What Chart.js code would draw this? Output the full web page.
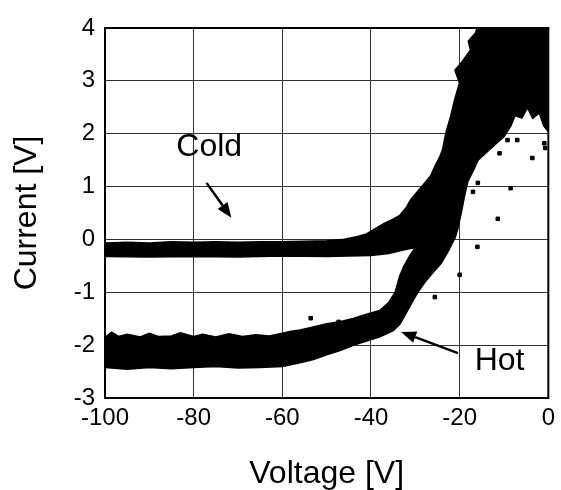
<!DOCTYPE html>
<html>
<head>
<meta charset="utf-8">
<script src="https://cdn.jsdelivr.net/npm/chart.js@4.4.1/dist/chart.umd.min.js"></script>
<style>
  html, body { margin: 0; background: #fff; }
  #wrap { width: 561px; height: 490px; }
</style>
</head>
<body>
<div id="wrap"><canvas id="ivChart"></canvas></div>
<script>
// outline of the cold trace (flat band + rising cloud up to the top right)
const coldEdgeX = [-100, -95, -90, -85, -80, -75, -70, -65, -60, -55, -50, -46, -43, -41, -39, -37, -35, -33.5, -32, -31, -29.5, -27.8, -26.5, -25.6, -24.5, -23.8, -23.1, -22.6, -22, -21.1, -20, -21, -19.5, -17.5, -18, -16.4, -16, 0,
  0, -1, -2, -3.5, -4.7, -6, -7.5, -8.5, -10, -12, -14, -15.9, -17, -18.2, -19, -19.7, -20.5, -21.5,
  -24, -27, -30, -33, -36, -40, -45, -50, -60, -70, -80, -90, -100]
const coldEdgeY = [-0.07, -0.06, -0.07, -0.05, -0.06, -0.05, -0.06, -0.05, -0.05, -0.04, -0.03, 0.0, 0.05, 0.1, 0.2, 0.3, 0.38, 0.45, 0.6, 0.75, 0.9, 1.07, 1.2, 1.37, 1.55, 1.7, 2.0, 2.15, 2.32, 2.64, 2.96, 3.2, 3.35, 3.58, 3.75, 3.9, 4.0, 4.0,
  2.05, 2.15, 2.4, 2.3, 2.5, 2.3, 2.35, 2.15, 1.95, 1.8, 1.65, 1.5, 1.3, 1.1, 0.8, 0.5, 0.2, 0.05,
  -0.02, -0.08, -0.15, -0.2, -0.26, -0.3, -0.31, -0.32, -0.31, -0.33, -0.32, -0.33, -0.32]

// outline of the hot trace
const hotEdgeX = [-100, -98.5, -97, -95, -92, -90, -88, -85, -83, -80, -78, -75, -72, -69, -66, -63, -60, -58, -56, -53, -50, -47, -44, -41, -38, -36, -34.5, -33.5, -32.5, -31, -29.5, -28, -26, -24, -22,
  -20.5, -21, -22.5, -24.2, -26, -27.8, -29.5, -31, -32.5, -33.5, -35, -38, -41, -44, -47, -50, -53, -56, -60, -65, -70, -75, -80, -85, -90, -95, -100]
const hotEdgeY = [-1.86, -1.76, -1.84, -1.8, -1.85, -1.78, -1.84, -1.83, -1.77, -1.84, -1.8, -1.85, -1.79, -1.84, -1.81, -1.83, -1.78, -1.74, -1.72, -1.66, -1.6, -1.56, -1.5, -1.42, -1.35, -1.2, -1.0, -0.7, -0.5, -0.28, -0.1, 0.05, 0.2, 0.35, 0.5,
  0.2, 0.05, -0.2, -0.45, -0.62, -0.8, -1.0, -1.22, -1.45, -1.6, -1.72, -1.84, -1.92, -2.0, -2.1, -2.18, -2.27, -2.33, -2.4, -2.42, -2.43, -2.4, -2.42, -2.44, -2.42, -2.45, -2.42]

// loose dots away from the bands
const strayX = [-11.4, -8.5, -3.6, -0.7, -16, -20, -25.6, -47.3, -53.6, -15.9, -17, -11, -9.2, -7, -0.2, -0.9]
const strayY = [0.39, 0.97, 1.54, 1.73, -0.14, -0.67, -1.09, -1.56, -1.49, 1.07, 0.9, 1.63, 1.88, 1.88, 2.13, 1.82]

const xTicks = [-100, -80, -60, -40, -20, 0]
const yTicks = [-3, -2, -1, 0, 1, 2, 3, 4]

const toPoints = (xs, ys) => xs.map((x, i) => ({ x: x, y: ys[i] }))

const notes = {
  id: "notes",
  afterDraw(chart) {
    const { ctx, chartArea, scales } = chart
    const px = v => scales.x.getPixelForValue(v)
    const py = v => scales.y.getPixelForValue(v)
    ctx.save()
    ctx.strokeStyle = "#000"
    ctx.lineWidth = 2
    ctx.strokeRect(chartArea.left, chartArea.top, chartArea.right - chartArea.left, chartArea.bottom - chartArea.top)

    ctx.fillStyle = "#000"
    ctx.font = "32px Arial"
    ctx.textAlign = "center"
    ctx.textBaseline = "middle"
    ctx.fillText("Cold", px(-76.5), py(1.75))
    ctx.fillText("Hot", px(-11), py(-2.3))

    const arrow = (x1, y1, x2, y2) => {
      const ax = px(x1), ay = py(y1), bx = px(x2), by = py(y2)
      const ang = Math.atan2(by - ay, bx - ax)
      const len = 15, wid = 6
      ctx.beginPath()
      ctx.moveTo(ax, ay)
      ctx.lineTo(bx - len * Math.cos(ang), by - len * Math.sin(ang))
      ctx.lineWidth = 2.5
      ctx.stroke()
      ctx.beginPath()
      ctx.moveTo(bx, by)
      ctx.lineTo(bx - len * Math.cos(ang) + wid * Math.sin(ang), by - len * Math.sin(ang) - wid * Math.cos(ang))
      ctx.lineTo(bx - len * Math.cos(ang) - wid * Math.sin(ang), by - len * Math.sin(ang) + wid * Math.cos(ang))
      ctx.closePath()
      ctx.fill()
    }
    arrow(-77.1, 1.07, -71.5, 0.41)
    arrow(-20.4, -2.15, -33.2, -1.75)
    ctx.restore()
  },
}

const ivChart = new Chart(document.getElementById("ivChart"), {
  type: "scatter",
  data: {
    datasets: [
      {
        data: toPoints(coldEdgeX, coldEdgeY),
        showLine: true,
        fill: "shape",
        backgroundColor: "#000",
        borderColor: "#000",
        borderWidth: 2,
        pointRadius: 0,
      },
      {
        data: toPoints(hotEdgeX, hotEdgeY),
        showLine: true,
        fill: "shape",
        backgroundColor: "#000",
        borderColor: "#000",
        borderWidth: 2,
        pointRadius: 0,
      },
      {
        data: toPoints(strayX, strayY),
        backgroundColor: "#000",
        borderColor: "#000",
        pointRadius: 2.5,
        pointStyle: "rect",
      },
    ],
  },
  options: {
    responsive: true,
    maintainAspectRatio: false,
    animation: false,
    layout: { padding: { top: 28, right: 10, left: 0, bottom: 0 } },
    plugins: {
      legend: false,
      tooltip: { enabled: false },
    },
    scales: {
      x: {
        type: "linear",
        min: -100,
        max: 0,
        afterBuildTicks: s => { s.ticks = xTicks.map(v => ({ value: v })) },
        afterFit: s => { s.height = 92 },
        ticks: { color: "#000", font: { family: "Arial", size: 24 }, padding: 6, maxRotation: 0 },
        grid: { color: "#333", lineWidth: 1, drawTicks: false },
        border: { color: "#000", width: 2 },
        title: { display: true, text: "Voltage [V]", color: "#000", font: { family: "Arial", size: 32, lineHeight: 1 }, padding: 0 },
      },
      y: {
        type: "linear",
        min: -3,
        max: 4,
        afterBuildTicks: s => { s.ticks = yTicks.map(v => ({ value: v })) },
        afterFit: s => { s.width = 105 },
        ticks: { color: "#000", font: { family: "Arial", size: 24 }, padding: 10 },
        grid: { color: "#333", lineWidth: 1, drawTicks: false },
        border: { color: "#000", width: 2 },
        title: { display: true, text: "Current [V]", color: "#000", font: { family: "Arial", size: 32, lineHeight: 1.2 }, padding: { top: 8, bottom: 0 } },
      },
    },
  },
  plugins: [notes],
})
</script>
</body>
</html>
